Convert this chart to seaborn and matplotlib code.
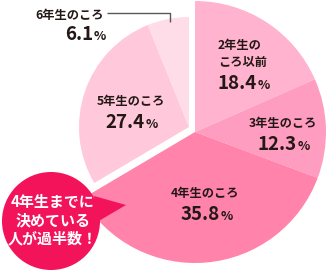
import matplotlib
matplotlib.use("Agg")
import matplotlib.pyplot as plt
from matplotlib.patches import Circle, Polygon
import seaborn as sns

# ---- data ----
categories = ["2年生の\nころ以前", "3年生のころ", "4年生のころ", "5年生のころ", "6年生のころ"]
values = [18.4, 12.3, 35.8, 27.4, 6.1]
value_labels = ["18.4", "12.3", "35.8", "27.4", "6.1"]
slice_colors = ["#FFB3CE", "#FF9DC0", "#FF83AB", "#FFC9DB", "#FFDDE8"]
callout_text = "4年生までに\n決めている\n人が過半数！"

sns.set_theme(style="white")
plt.rcParams["font.family"] = ["Noto Sans CJK JP", "DejaVu Sans"]

W, H, DPI = 329, 273, 100
fig = plt.figure(figsize=(W / DPI, H / DPI), dpi=DPI)
ax = fig.add_axes([0, 0, 1, 1])

main_center, main_r = (195, 132), 131
side_center, side_r = (189, 127), 110

# y axis inverted (pixel coords) -> counterclock in data = clockwise on screen
wedges, _ = ax.pie(values, colors=slice_colors, startangle=-90, counterclock=True,
                   center=main_center, radius=main_r, frame=True,
                   wedgeprops=dict(linewidth=0))
for w in wedges[3:]:
    w.set_center(side_center)
    w.set_radius(side_r)

ax.set_xlim(0, W)
ax.set_ylim(H, 0)
ax.set_aspect("equal")
ax.axis("off")

txt = "#231815"
name_fs, num_fs, pct_fs = 8.8, 13.5, 9.2
wt = "bold"

# category labels
ax.text(218, 45, "2年生の", ha="left", va="center", fontsize=name_fs, color=txt, weight=wt)
ax.text(218, 62, "ころ以前", ha="left", va="center", fontsize=name_fs, color=txt, weight=wt)
ax.text(283, 124, categories[1], ha="center", va="center", fontsize=name_fs, color=txt, weight=wt)
ax.text(205, 194, categories[2], ha="center", va="center", fontsize=name_fs, color=txt, weight=wt)
ax.text(131, 101, categories[3], ha="center", va="center", fontsize=name_fs, color=txt, weight=wt)
ax.text(104, 15, categories[4], ha="right", va="center", fontsize=name_fs, color=txt, weight=wt)

# percentage values (number + small %)
num_pos = [(257, 89), (297, 150), (220, 220), (145, 128), (93, 40)]
for lab, (x, y) in zip(value_labels, num_pos):
    ax.text(x, y, lab, ha="right", va="baseline", fontsize=num_fs, color=txt, weight=wt)
    ax.text(x + 0.5, y, "%", ha="left", va="baseline", fontsize=pct_fs, color=txt, weight=wt)

# leader line for 6年生
ax.plot([107, 170, 170], [13, 13, 22], color="#595757", lw=1.0, solid_capstyle="butt")

# callout bubble
bubble = "#F2135B"
ax.add_patch(Circle((51, 221), 49, facecolor=bubble, edgecolor="none", zorder=5))
ax.add_patch(Polygon([(94, 196), (126, 205), (97, 222)], closed=True,
                     facecolor=bubble, edgecolor="none", zorder=5))
ax.text(53, 220, callout_text, ha="center", va="center", fontsize=10.8, color="white",
        weight="bold", linespacing=1.2, zorder=6)

fig.savefig("out.png", dpi=DPI)
